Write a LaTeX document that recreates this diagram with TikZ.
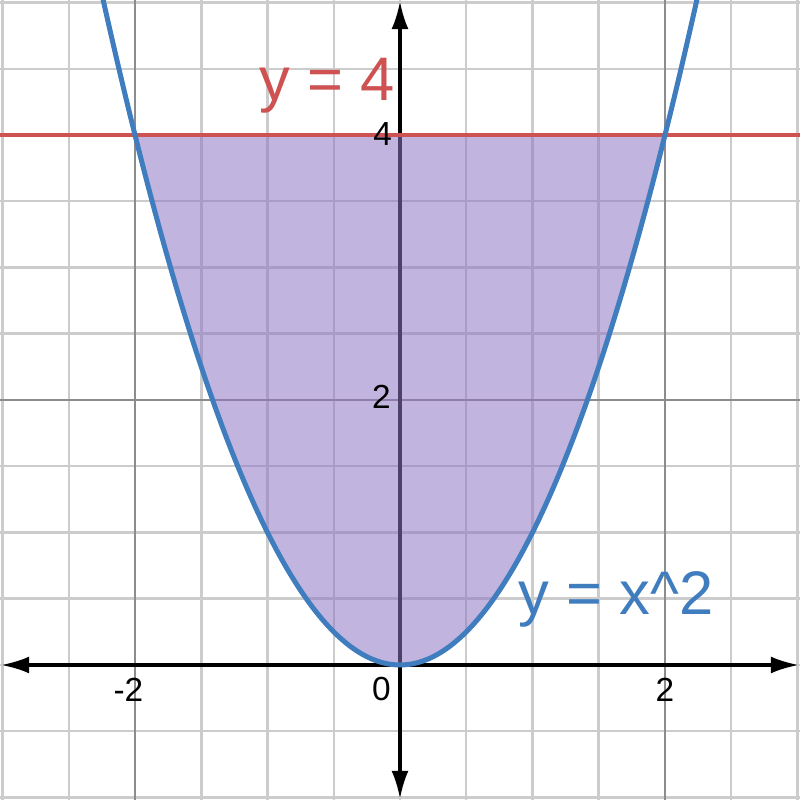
\documentclass[tikz,border=0pt]{standalone}
\usepackage{fontspec}
\setmainfont{Liberation Sans}
\usepackage{xcolor}
\usetikzlibrary{arrows.meta, positioning, calc}

\definecolor{curveblue}{HTML}{3F7DBF}
\definecolor{linered}{HTML}{CE5252}
\definecolor{regionfill}{HTML}{8E76C2}

\tikzset{
    minorgrid/.style={draw=black!20, line width=0.25mm},
    majorgrid/.style={draw=black!45, line width=0.25mm},
    axisline/.style={draw=black, line width=0.32mm, {Latex[length=2.8mm,width=1.7mm]}-{Latex[length=2.8mm,width=1.7mm]}},
    ticklabel/.style={font=\fontsize{9.5}{10}\selectfont, inner sep=1pt},
    eqlabel/.style={font=\fontsize{17.5}{20}\selectfont, inner sep=0pt}
}

\begin{document}
\begin{tikzpicture}[x=1.325cm, y=1.325cm]
\useasboundingbox (-3.019,-1.019) rectangle (3.019,5.019);
\clip (-3.019,-1.019) rectangle (3.019,5.019);

% Grid: minor every 0.5, major every 2
\foreach \x in {-3,-2.5,...,3} {
    \draw[minorgrid] (\x,-1.1) -- (\x,5.1);
}
\foreach \y in {-1,-0.5,...,5} {
    \draw[minorgrid] (-3.1,\y) -- (3.1,\y);
}
\foreach \x in {-2,2} {
    \draw[majorgrid] (\x,-1.1) -- (\x,5.1);
}
\foreach \y in {2,4} {
    \draw[majorgrid] (-3.1,\y) -- (3.1,\y);
}

% Axes
\coordinate (xl) at (-3.01,0);
\coordinate (xr) at (3.01,0);
\coordinate (yb) at (0,-1.01);
\coordinate (yt) at (0,5.01);
\draw[axisline] (xl) -- (xr);
\draw[axisline] (yb) -- (yt);

% Region between y = x^2 and y = 4
\fill[regionfill, opacity=0.55] plot[domain=-2:2, samples=80] (\x,{\x*\x}) -- cycle;

% Curves
\draw[linered, line width=0.45mm] (-3.1,4) -- (3.1,4);
\draw[curveblue, line width=0.5mm] plot[domain=-2.26:2.26, samples=120] (\x,{\x*\x});

% Tick labels
\node[ticklabel] (tm2) at (-2.05,-0.19) {-2};
\node[ticklabel] (t0) at (-0.14,-0.18) {0};
\node[ticklabel] (t2) at (2,-0.19) {2};
\node[ticklabel] (ty2) at (-0.14,2.02) {2};
\node[ticklabel] (ty4) at (-0.13,4.01) {4};

% Equation labels
\node[eqlabel, linered, anchor=base] (eqline) at (-0.55,4.26) {y = 4};
\node[eqlabel, curveblue, anchor=base] (eqcurve) at (1.63,0.38) {y = x\^{}2};
\end{tikzpicture}
\end{document}
